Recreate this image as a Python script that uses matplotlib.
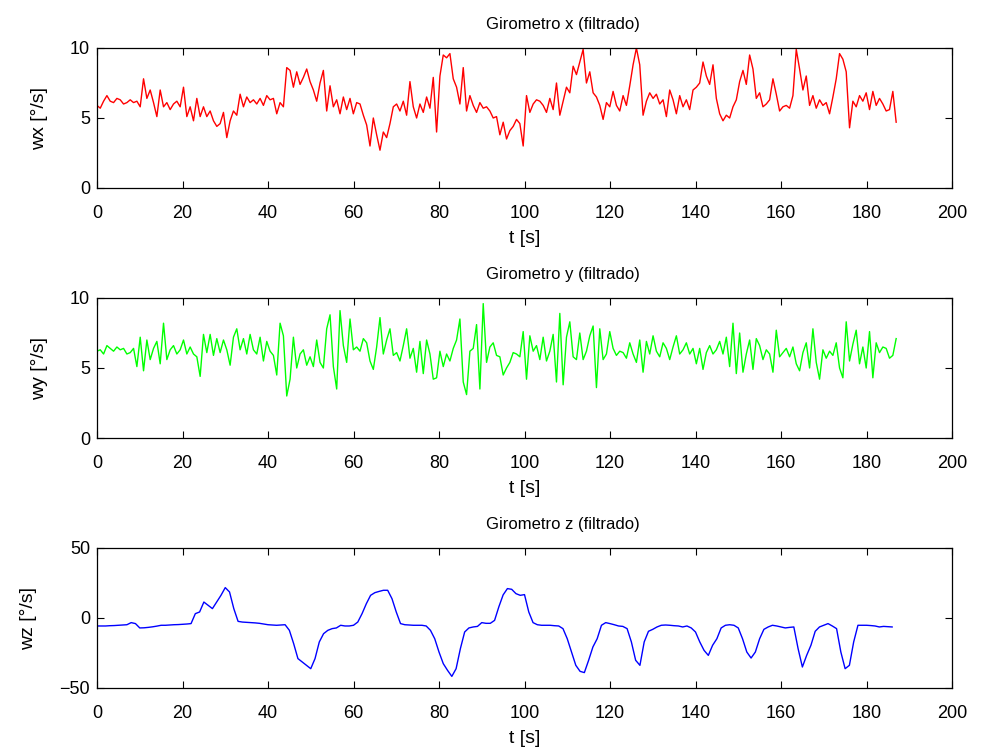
import numpy as np
import matplotlib
matplotlib.use("Agg")
import matplotlib.pyplot as plt

plt.rcParams['font.family'] = ['Liberation Sans', 'DejaVu Sans']

DT_NOISY = 0.779   # sample spacing of the filtered gyro x / y readings [s]
T0_NOISY = -0.02
DT_Z = 1.0

wx = [
    5.9, 5.7, 6.2, 6.6, 6.2, 6.1, 6.4, 6.3, 6.0, 6.1, 6.3, 6.1, 6.2, 5.8, 7.8, 6.4, 7.0, 6.1, 5.1, 7.0,
    5.8, 6.1, 5.6, 6.0, 6.2, 5.8, 7.2, 5.1, 5.8, 4.8, 6.4, 5.1, 5.8, 5.1, 5.5, 4.8, 4.4, 4.6, 5.4, 3.6,
    4.8, 5.5, 5.2, 6.7, 5.8, 6.5, 6.1, 6.3, 6.0, 6.4, 5.9, 6.6, 6.3, 6.4, 5.3, 6.1, 5.8, 8.6, 8.4, 7.2,
    8.3, 7.4, 7.9,
    8.5, 7.6, 7.0, 6.2, 7.5, 8.4, 5.5, 7.3, 5.8, 6.3, 5.3, 6.5, 5.6, 6.4, 5.3, 6.1, 6.0, 5.2, 4.5, 3.0,
    5.0, 3.8, 2.7, 4.0, 3.6, 4.6, 5.8, 6.0, 5.5, 6.2, 5.2, 7.6, 5.8, 5.0, 6.0, 5.4, 6.5, 5.7, 7.9, 4.0,
    8.0, 9.5, 9.3, 9.6, 7.8, 7.2, 6.0, 8.6, 5.5, 6.6, 5.9, 5.4, 6.1, 5.7, 5.8, 5.5, 5.0, 5.1, 3.8, 4.7,
    3.5, 4.1, 4.4, 4.9, 4.6, 3.0, 6.6, 5.4, 6.0, 6.3, 6.2, 5.9, 5.4, 6.4, 5.6, 7.5, 5.2, 6.2, 7.2, 6.8,
    8.7, 8.1, 9.0, 9.9, 7.5, 8.3, 6.8, 6.5, 5.9, 4.9, 6.1, 5.8, 6.9, 5.9, 5.5, 6.6, 5.9, 7.3, 8.8, 10.0,
    8.8, 5.2, 6.2, 6.8, 6.4, 6.7, 6.0, 6.3, 5.1, 7.0, 6.3, 5.3, 6.6, 5.8, 6.3, 5.6, 7.0, 7.2, 7.5, 9.0,
    8.0, 7.4, 8.8, 6.4, 5.3, 4.8, 5.2, 5.0, 5.8, 6.3, 7.6, 8.4, 7.4, 9.5, 8.5, 6.4, 6.8, 5.8, 6.0, 6.3,
    7.8, 6.7, 5.5, 5.8, 5.9, 5.7, 6.6, 9.9, 8.5, 7.0, 8.0, 5.9, 6.6, 5.7, 6.3, 5.9, 6.1, 5.3, 6.5, 7.8,
    9.6, 9.2, 8.3, 4.3, 6.2, 5.8, 6.6, 6.2, 6.8, 5.6, 6.9, 5.9, 6.4, 6.0, 5.5, 5.6, 6.9, 4.7,
]

wy = [
    6.2, 6.3, 6.0, 6.6, 6.4, 6.2, 6.5, 6.3, 6.4, 6.0, 6.1, 6.4, 5.1, 7.2, 4.8, 7.0, 5.6, 6.4, 6.9, 5.3,
    8.2, 5.6, 6.3, 6.6, 6.0, 6.3, 7.0, 6.0, 6.5, 6.0, 5.8, 4.4, 7.4, 6.1, 7.4, 5.9, 7.1, 6.1, 7.0, 6.3,
    5.2, 7.2, 7.8, 6.3, 7.1, 6.0, 7.4, 6.3, 6.0, 7.2, 5.5, 6.9, 6.2, 5.9, 4.5, 8.2, 7.3, 3.0, 4.2, 7.2,
    5.0, 6.0, 6.3,
    5.2, 5.8, 5.1, 7.0, 5.4, 5.0, 7.8, 8.8, 5.1, 3.5, 9.1, 6.6, 5.4, 8.5, 6.3, 6.5, 6.2, 7.1, 6.8, 5.5,
    4.9, 6.5, 8.6, 6.0, 7.0, 7.8, 5.9, 6.1, 5.5, 6.6, 7.8, 5.7, 6.4, 4.7, 6.9, 4.6, 7.0, 6.0, 4.2, 4.3,
    6.2, 5.1, 6.0, 5.5, 6.4, 7.0, 8.5, 4.0, 3.1, 6.2, 6.4, 8.1, 3.5, 9.6, 5.4, 6.5, 6.8, 5.9, 5.8, 4.5,
    5.0, 5.4, 6.1, 6.0, 5.8, 7.6, 4.2, 7.3, 6.2, 6.6, 5.6, 7.2, 5.5, 6.2, 7.4, 4.0, 8.9, 3.8, 7.2, 8.3,
    5.8, 5.6, 7.5, 5.6, 6.2, 7.3, 8.0, 3.6, 7.8, 5.6, 6.0, 7.6, 6.4, 5.9, 6.2, 6.1, 5.7, 6.8, 6.0, 5.4,
    7.0, 4.7, 6.9, 6.0, 7.3, 6.2, 5.8, 6.8, 6.4, 5.6, 6.5, 7.3, 6.0, 6.3, 6.8, 6.0, 6.4, 5.3, 6.4, 4.9,
    6.1, 6.6, 6.0, 6.3, 6.9, 6.0, 7.2, 5.1, 8.2, 4.6, 7.5, 4.7, 6.0, 7.0, 4.9, 7.1, 6.6, 5.6, 6.3, 6.0,
    4.7, 7.7, 5.8, 6.1, 6.4, 5.8, 6.5, 5.3, 4.8, 6.1, 6.8, 5.0, 7.8, 5.4, 4.2, 6.3, 5.7, 6.2, 5.9, 6.8,
    5.0, 4.3, 8.3, 5.5, 6.7, 7.7, 5.3, 6.5, 5.0, 7.6, 4.3, 6.8, 6.1, 6.5, 6.4, 5.7, 5.9, 7.1,
]

wz = [
    -5.7, -5.7, -5.7, -5.5, -5.4, -5.2, -5.0, -4.8, -3.3, -4.0, -7.1, -7.0, -6.7, -6.3, -5.8, -5.2, -5.2, -5.0, -4.8, -4.7,
    -4.5, -4.3, -4.0, 3.1, 4.3, 11.4, 9.0, 6.7, 11.4, 16.2, 21.7, 18.6, 6.7, -2.4, -2.9, -3.1, -3.3, -3.5, -3.8, -4.3,
    -4.8, -5.0, -5.2, -5.0, -4.8, -8.8, -18.3, -29.0, -31.4, -33.8, -36.2, -29.0, -17.1, -11.2, -8.8, -7.6, -7.1, -5.2, -5.7, -5.7,
    -5.2, -2.9, 3.1, 10.2, 16.2, 18.1, 19.0, 19.8, 19.8, 13.8, 4.3, -4.0, -4.8, -5.0, -5.2, -5.2, -5.2, -5.7, -8.8, -14.8,
    -24.3, -32.6, -37.4, -41.7, -36.2, -21.9, -10.0, -7.1, -6.4, -6.0, -3.3, -3.8, -3.8, -1.7, 8.0, 16.5, 21.0, 20.5, 17.4, 16.2,
    16.7, 4.3, -3.3, -4.8, -5.2, -5.2, -5.2, -5.5, -5.7, -7.6, -14.8, -24.3, -33.8, -38.1, -39.0, -30.2, -20.7, -14.8, -5.2, -3.3,
    -4.0, -4.8, -5.7, -6.0, -7.6, -17.1, -30.2, -33.8, -17.1, -9.5, -8.1, -6.4, -5.2, -5.0, -5.2, -5.5, -5.7, -6.4, -5.7, -7.1,
    -10.0, -17.1, -23.1, -26.7, -19.5, -14.8, -7.1, -5.2, -4.8, -5.2, -7.1, -14.8, -24.3, -28.6, -24.3, -14.8, -8.1, -6.4, -5.2, -5.7,
    -6.4, -7.1, -6.7, -6.4, -21.9, -35.0, -26.7, -19.5, -9.5, -6.4, -5.2, -4.0, -5.7, -7.6, -24.3, -36.2, -33.8, -17.1, -5.2, -5.2,
    -5.2, -5.4, -5.7, -6.4, -6.0, -6.2, -6.4,
]

titles = ["Girometro x (filtrado)", "Girometro y (filtrado)", "Girometro z (filtrado)"]
ylabels = ["wx [°/s]", "wy [°/s]", "wz [°/s]"]
xlabel = "t [s]"
xticks = list(range(0, 201, 20))
yticks_list = [[0, 5, 10], [0, 5, 10], [-50, 0, 50]]
ylims = [(0, 10), (0, 10), (-50, 50)]
colors = ["#ff0000", "#00ff00", "#0000ff"]

t_noisy = T0_NOISY + np.arange(len(wx)) * DT_NOISY
t_noisy_y = T0_NOISY + np.arange(len(wy)) * DT_NOISY
t_z = np.arange(len(wz)) * DT_Z

series = [(t_noisy, wx), (t_noisy_y, wy), (t_z, wz)]

W, H = 983, 756
fig = plt.figure(figsize=(W / 100, H / 100), dpi=100)
tops = [48, 298, 548]
left_px, right_px, ax_h = 97, 952, 140

for i in range(3):
    bottom = 1 - (tops[i] + ax_h) / H
    ax = fig.add_axes([left_px / W, bottom, (right_px - left_px) / W, ax_h / H])
    t, v = series[i]
    ax.plot(t, v, color=colors[i], lw=1.0)
    ax.set_xlim(0, 200)
    ax.set_ylim(*ylims[i])
    ax.set_xticks(xticks)
    ax.set_yticks(yticks_list[i])
    ax.tick_params(direction='in', top=True, right=True, length=5, width=0.8,
                   labelsize=13)
    ax.tick_params(axis='x', pad=12)
    ax.tick_params(axis='y', pad=5)
    for s in ax.spines.values():
        s.set_linewidth(0.9)
    ax.set_title(titles[i], fontsize=12, pad=14, x=0.545)
    ax.set_xlabel(xlabel, fontsize=14, labelpad=6)
    ax.set_ylabel(ylabels[i], fontsize=14, labelpad=16)

fig.savefig("out.png", dpi=100)
